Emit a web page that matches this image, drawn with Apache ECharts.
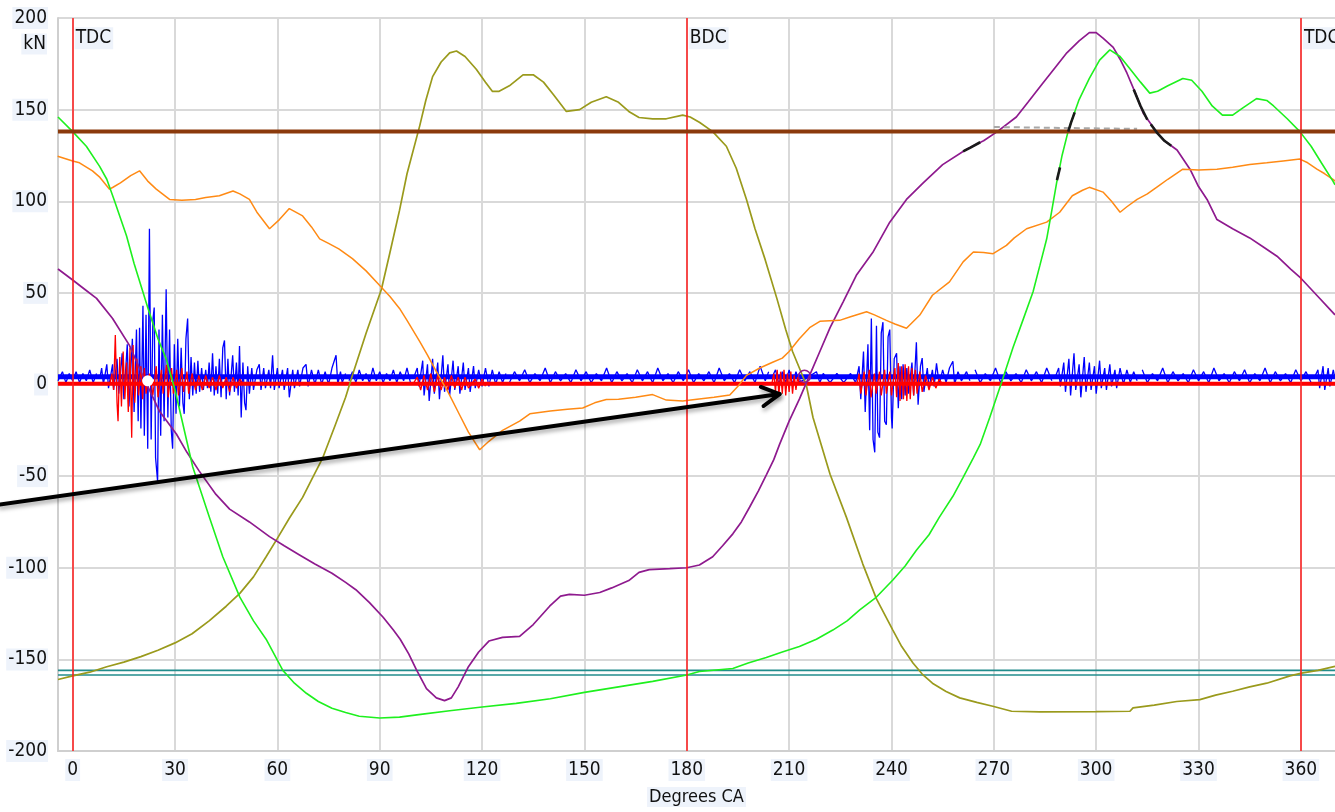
<!DOCTYPE html>
<html>
<head>
<meta charset="utf-8">
<script src="https://cdn.jsdelivr.net/npm/echarts@6/dist/echarts.min.js"></script>
<style>
html,body{margin:0;padding:0;background:#fff;}
#chart{width:1335px;height:812px;}
</style>
</head>
<body>
<div id="chart"></div>
<script>
// axis ranges / ticks
var xMin = -4.3, xMax = 370;
var degTicks = [0, 30, 60, 90, 120, 150, 180, 210, 240, 270, 300, 330, 360];
var deadCentres = [0, 180, 360];
var deadCentreNames = ['TDC', 'BDC', 'TDC'];
var limitHigh = 138;
var limitLow = [-156, -158.5];

// smooth curves [deg, kN]
var greenForce = [[-4.3,146],[0,138],[4,130],[7.9,119],[10,112],[12.3,100],[15.8,81],[18,66],[22,42],[25,25],[27.4,14],[30,-3],[35.2,-45],[40,-72],[44,-94],[49,-116],[53,-129],[56.7,-139],[61.6,-156],[65,-163],[68.5,-168.5],[72,-173],[76,-176.7],[80,-179],[84,-181],[90,-182],[95.8,-181.5],[102,-180],[110.5,-178],[120,-176],[130,-174],[140,-171.5],[150,-168],[160,-165],[170,-162],[180,-158.5],[183.7,-156.6],[193.5,-155],[198,-152],[203.3,-149],[208,-146],[213,-143],[218,-139],[222.8,-134],[227,-129],[230.7,-123],[235.6,-116],[240.4,-106.7],[244,-99],[247.3,-90.5],[251,-82],[254,-72.5],[258,-61],[261,-50.7],[264,-40],[266,-32.7],[268.8,-18],[272.6,3],[275.6,20],[278.5,35],[281.5,50.6],[283.5,65],[285.5,79.5],[287,95],[288.4,110],[290,125],[291.7,137.6],[293,145],[295,155.5],[298,167],[301,177],[304,182.6],[307,179],[310,172],[313,165],[315.7,159],[318,160],[321,163],[325.4,167],[328,166],[331,160],[334,152],[337,147],[340,147],[343,151],[347,156],[350,155],[352,152],[356,145],[359.7,138],[363,130],[366,121],[369.4,111],[370,109]];

var oliveForce = [[-4.3,-161],[0,-159],[5,-157],[10,-154],[15,-151.5],[20,-148.5],[25,-145],[30,-141],[35,-136],[40,-129],[45,-121],[49,-114],[53,-105],[56.7,-94],[60,-84],[63.5,-73],[67.4,-61.6],[70,-52],[73.3,-40],[77,-22],[80,-7],[82,5],[86,28],[90.5,52],[93,72],[95.8,95],[98,115],[101.7,141],[103.5,155],[105.5,168],[108,176],[110.5,181],[112.5,182],[115,179],[118.3,172],[121,165],[123,160],[125,160],[128,163],[132,169],[135,169],[138,165],[141,158],[144.7,149],[148.6,150],[152,154],[156.4,157],[160,154],[163,149],[166,145.7],[170,145],[174,145],[178.8,147],[181,146],[183.8,143],[187.6,138],[191.6,130],[194.5,118],[197.5,101],[200,85],[203,68],[206.4,47],[209,30],[211,18],[215,0],[217,-18],[222,-49],[226.8,-72.5],[231.6,-98],[235.6,-117],[240.4,-134],[243,-143],[246.3,-152],[249,-158],[252,-163],[256,-167.5],[260,-171],[265,-173.5],[269.7,-175.6],[275.2,-178.3],[283.5,-178.7],[300,-178.5],[309.9,-178.3],[310.8,-176.5],[317,-175],[323.6,-173],[330.4,-172],[335,-169.5],[340,-167.4],[345,-165],[350,-163],[356.8,-159],[360.2,-157.5],[365,-156],[370,-153.8]];

var purpleForce = [[-4.3,63],[0,57],[3.5,52],[7,47],[11.7,36],[16.6,21.5],[20.5,5],[25.4,-14.4],[30.4,-27],[33.5,-37],[37,-47],[42,-60],[46,-68],[51.8,-75],[57.7,-83],[62,-88],[66.5,-93],[71,-98],[76,-103],[80,-108],[83,-112],[87,-119],[91,-127],[94,-134],[96,-139],[98.5,-147],[100.7,-155.5],[103.7,-166],[106.6,-171],[109,-172.5],[111,-171],[113,-165],[116,-154],[119,-146],[122,-140],[126,-138],[131,-137.5],[135,-131],[139.8,-121],[143,-115.5],[145.6,-114.5],[150,-115],[154.5,-113.5],[158,-111],[163,-107],[166,-102.5],[169,-101],[175,-100.5],[180,-100],[183.7,-98.5],[187.6,-94],[190.5,-88],[193.5,-81.5],[196,-75],[198.4,-67],[201,-58],[203.4,-49],[205.5,-41],[207.2,-32.7],[210,-20],[213,-8],[216,5],[219,18],[222,31],[225.8,45],[229.7,59.6],[234.5,72],[239.5,88.6],[244.4,101],[249.3,110],[255,120],[262,128.4],[267,133],[271,138],[276.6,146],[280,154],[284.4,164.5],[288,173],[291.4,181],[295,187.5],[298,192],[300,192],[302,189],[305,184],[307,177.5],[309,170],[311.5,159],[313.8,148],[317.8,137.5],[320,133],[323.7,128],[327.5,117.5],[330,108],[332.5,101],[335.4,90],[340,85],[345,80],[349,75],[353,70],[357,63],[360,58],[365,48],[370,38]];

var orangeForce = [[-4.4,124.6],[0,122],[2,121],[5.8,116.6],[8,113],[10.8,106.6],[11.7,107.5],[14,110],[17,114],[19.6,116.6],[22,111],[24.5,106.6],[28.4,101],[32,100.5],[36,101],[39,102],[43,103],[47,105.6],[49,104],[51.8,101],[54,94],[57.7,85],[60.6,90],[63.5,96],[67.4,92],[70,86],[72.4,79.5],[75,77],[78,74],[82,68.7],[86,62],[90,54],[93,48],[95.8,41.5],[98,35],[101.7,23.5],[104,16],[106.6,7],[110,-4],[113.4,-16.5],[116,-26],[119.3,-35.6],[122,-31],[126,-25],[131,-20],[134,-16],[140,-14.5],[145,-13.5],[149.5,-12.8],[153,-10],[156.4,-8.2],[160,-8],[165,-7],[170,-5.5],[174,-8.5],[178.8,-9],[183,-8],[188,-7],[192.6,-5.7],[195,-1],[197.5,5],[201.4,9],[205,12],[208,14.4],[210,18],[213,25],[216,31],[219,34.5],[224.8,35],[228,37],[232.7,39.7],[235,38],[238.5,35],[241,33],[244.4,30.7],[248.3,37.9],[252,48.7],[257,56],[261,66.9],[264,72.3],[267,72],[269.8,71.4],[273.7,75.9],[276,80],[279.6,85],[285.5,88.6],[289.3,94],[293,103],[296,106],[298,107.6],[302,105],[304.5,100],[307,94],[309,97],[312,101],[315,104],[318,108],[321,112],[325.4,117.5],[330,117],[335.4,117.5],[340,118.5],[345,120],[350,121],[354.8,122],[359.7,123],[362,121],[364.7,117.5],[367,115],[369.4,112],[370,111]];

// vibration traces: steady band level + bursts
var blueLevel = 4.2;
var redLevel = 0.4;
var blueBursts = [
  [[-4.3,2],[-3,7],[-2,1],[-1,6],[0,2],[1,7],[2,1],[3,6],[4,2],[5,8],[6,1],[7,6]],
  [[8,4],[8.5,9],[9,0],[10,11],[10.5,-2],[11.7,11],[12,-3],[13,14],[13.5,-5],[14.5,17],[15,-8],[16,22],[16.5,-12],[17.5,25],[18,-15],[18.7,30],[19.2,-20],[19.6,31],[20,-24],[20.6,43],[21,-28],[21.5,38],[22,-35],[22.5,85],[23,-30],[23.5,35],[23.9,42],[24.3,-40],[24.9,-53],[25.3,30],[25.8,-28],[26.3,38],[26.8,-20],[27.4,52],[27.9,-18],[28.4,30],[28.9,-25],[29.3,-35],[29.8,22],[30.3,-16],[30.8,25],[31.3,-12],[31.8,20],[32.3,-10],[32.7,-16],[33.2,25],[33.7,36],[34.2,-8],[34.7,15],[35.2,-6],[35.7,12],[36.2,-5],[36.7,13],[37.2,-4],[37.8,9],[38.3,-3],[39,8],[39.5,-2],[40,12],[40.5,-4],[41,17],[41.5,-6],[42,10],[42.5,-5],[43,14],[43.5,-7],[44,20],[44.5,24],[45,-8],[45.5,14],[46,-6],[46.9,16],[47.4,-4],[48,12],[48.5,-6],[48.9,21],[49.4,-18],[49.9,12],[50.4,-10],[50.8,-14],[51.3,10],[51.8,-5],[52.5,9],[53,-3],[54,8],[54.7,11],[55.2,-3],[56,9],[56.5,-2],[57.5,8],[58,-2],[58.6,16],[59.1,-3],[60,9],[60.5,-2],[61.5,8],[62,-3],[63,9],[63.5,-7],[64.5,8],[65,-2],[66,8],[66.5,-1],[67.5,9],[68.4,11],[69,-1],[70,8],[71,0],[72,8],[73,0],[74,7],[75,0],[76,9],[77.2,16],[77.7,0],[78.5,7],[79,1],[80,6]],
  [[81,2],[82,7],[83,1],[84,8],[85,2],[86,6],[87,1],[88,9],[89,2],[90,7],[91,1],[92,6],[93,2],[94,8],[95,1],[96,7],[97,2],[98,9],[99,1]],
  [[100,4],[101,9],[101.5,-1],[102.6,13],[103,-6],[104,11],[104.5,-9],[105.5,14],[106,-5],[107,12],[107.5,-8],[108.5,16],[109,-4],[110,11],[110.5,-6],[111.5,13],[112,-3],[113,10],[113.5,-5],[114.5,12],[115,-3],[116,9],[116.5,-4],[117.5,10],[118,-2],[119,8],[120,-1],[121,9],[122,-1],[123,8],[124,0],[125,7],[126,1],[127,6]],
  [[128,1],[129.5,7],[131,2],[132.5,8],[134,1],[135.5,6],[137,2],[138.5,9],[140,1],[141.5,7],[143,2],[144.5,6],[146,1],[147.5,8],[149,2],[150.5,7],[152,1],[153.5,6],[155,2],[156.5,9],[158,1],[159.5,7],[161,2],[162.5,6],[164,1],[165.5,8],[167,2],[168.5,7],[170,1],[171.5,9],[173,2],[174.5,6],[176,1],[177.5,7],[179,2],[180.5,8],[182,1],[183.5,6],[185,2],[186.5,7],[188,1],[189.5,9],[191,2],[192.5,6],[194,1],[195.5,8],[197,2],[198.5,7],[200,1],[201.5,10],[203,2],[204,7]],
  [[205,4],[206,8],[207,0],[208,7],[209,1],[210,8],[211,0],[212,7],[213,1],[218,7],[219,1],[220,6],[222,1],[224,6],[226,1],[228,6],[229.5,1],[230.5,10],[231,-8],[231.8,18],[232.3,-15],[233.1,22],[233.6,-25],[234.1,36],[234.6,-30],[235.1,-37],[235.6,32],[236,-26],[236.5,-29],[237,28],[237.5,34],[238,-20],[238.5,-22],[239,26],[239.5,30],[240,-18],[240.2,-24],[240.8,14],[241.5,17],[242,-13],[242.5,10],[243,-8],[243.4,11],[244,-6],[244.5,9],[245,-5],[246,12],[246.5,-6],[247.3,23],[247.8,-11],[248.5,10],[249,14.4],[249.5,-4],[250.5,9],[251,-2],[252,8],[252.5,-1],[253.2,11.5],[254,0],[255,8],[256,1],[257,9],[258,12.7],[258.5,0],[259.5,7],[260.5,2],[262,7],[263,2]],
  [[264.5,8],[266,1],[267.5,6],[269,2],[270.5,9],[272,1],[273.5,7],[275,2],[276.5,6],[278,1],[279.5,8],[281,2],[282.5,7],[284,1],[285.5,9],[287,2]],
  [[288,4],[289,9],[289.5,-1],[290.5,12],[291,-4],[292,14],[292.5,-6],[293.5,17],[294,-3],[295,11],[295.5,-7],[296.5,15],[297,-4],[298,12],[298.5,-3],[299.5,10],[300,-5],[301,13],[301.5,-2],[302.5,9],[303,-3],[304,11],[304.5,-1],[305.5,8],[306,-2],[307,9],[308,0],[309,8],[310,1],[311,7],[312,2]],
  [[313.5,8],[315,1],[316.5,6],[318,2],[319.5,9],[321,1],[322.5,7],[324,2],[325.5,6],[327,1],[328.5,8],[330,2],[331.5,7],[333,1],[334.5,9],[336,2],[337.5,6],[339,1],[340.5,7],[342,2],[343.5,8],[345,1],[346.5,6],[348,2],[349.5,9],[351,1],[352.5,7],[354,2],[355.5,6],[357,1],[358.5,8],[360,2],[361.5,7],[363,1]],
  [[364,4],[365,8],[365.5,-2],[366.5,10],[367,-3],[368,9],[368.5,-1],[369.5,8],[370,3]]
];
var redBursts = [
  [[11,1],[11.5,6],[12,-3],[12.5,27],[13,-10],[13.3,-20],[13.8,15],[14.3,-12],[14.8,18],[15.3,-8],[15.8,12],[16.3,-15],[16.8,20],[17.3,-29],[17.7,21.5],[18.2,-10],[18.8,14],[19.3,-6],[20,10],[20.5,-8],[21,9],[21.5,-5],[22.5,6],[23.5,-6],[24.5,10],[25,-7],[26,8],[26.5,-5],[27.5,10.7],[28,-7],[29,9],[29.5,-5],[30.5,8],[31,-6],[32,9],[32.5,-4],[33.5,7],[34,-5],[35,6],[36,-3],[37,5],[38,-3],[39,5],[40,-2],[41,4],[42,-3],[43,5],[44,-2],[45,4],[46,-4],[47,4],[48,-2],[49,3],[50,0]],
  [[100,1],[101,4],[102,-3],[103,5],[104,-3],[105,6],[106,-4],[107,5],[108,-3],[109,4],[110,-3],[111,5],[112,-2],[113,4],[114,-3],[115,4],[116,-2],[118,3],[119,-2],[120,3],[121,-1]],
  [[205,1],[205.5,6],[206,-4],[206.5,8],[207,-6],[207.5,7],[208,-5],[208.5,8],[209,-6],[209.5,6],[210,-4],[210.5,7],[211,-5],[211.5,5],[212,-3],[212.5,4],[213,0]],
  [[230,1],[230.5,6],[231,-5],[232,7],[232.5,-6],[233.5,8],[234,-7],[235,6],[235.5,-5],[236.5,7],[237,-6],[238,8],[238.5,-5],[239.5,7],[240,-6],[241,9],[241.5,-7],[242,11.7],[242.5,-9],[243,10],[243.5,-8],[244,11],[244.5,-9],[245,10],[245.5,-8],[246,9],[246.5,-6],[247,8],[247.5,-5],[248.3,7],[249,-4],[250,5],[251,-3],[252,4],[253,-2],[254,3],[255,0]]
];

// dark over-trace pieces and grey dashed piece near the upper limit
var blackTraces = [
  [[261,127.2],[263,129.1],[266,132.2]],
  [[288.5,111.5],[289.4,118.5]],
  [[291.8,138],[292.6,142.8],[293.7,148.5]],
  [[311,161],[313,152],[315,144.5]],
  [[316,142],[318,137],[320,133],[322,130.3]]
];
var greyDash = [[270, 140.5], [312, 139.5]];

// markers
var whiteDot = [22, 2];
var purpleRing = [214.5, 4.5];
var arrowFrom = [-21.5, -65.5];
var arrowTo = [207.2, -5.2];

var FONT = "'Liberation Sans Narrow', 'DejaVu Sans Condensed', 'Arial Narrow', sans-serif";
var FSIZE = 19;
var LABEL_BG = '#eef3fb';

var chart = echarts.init(document.getElementById('chart'));

function flat(level) {
  return [[xMin, level], [xMax, level]];
}
function curve(name, data, color, width, z) {
  return {
    name: name, type: 'line', data: data, z: z || 4,
    symbol: 'none', animation: false, silent: true,
    lineStyle: {color: color, width: width}
  };
}

var series = [];
// low limit lines (teal)
limitLow.forEach(function (v) {
  series.push(curve('low', flat(v), '#228c8c', 1.6, 2));
});
// blue trace
series.push(curve('blueBand', flat(blueLevel), '#0000ff', 5, 3));
blueBursts.forEach(function (b) { series.push(curve('blue', b, '#0000ff', 1.3, 3)); });
// red trace
series.push(curve('redBand', flat(redLevel), '#ff0000', 4, 3));
redBursts.forEach(function (b) { series.push(curve('red', b, '#ff0000', 1.3, 3)); });

series.push(curve('olive', oliveForce, '#9a9a1c', 1.7, 4));
series.push(curve('purple', purpleForce, '#8e1a8e', 1.7, 4));
series.push(curve('orange', orangeForce, '#ff8a14', 1.5, 4));
series.push(curve('green', greenForce, '#1ef01e', 1.6, 4));

var grey = curve('grey', greyDash, '#a8a8a8', 2, 5);
grey.lineStyle.type = [6, 4];
series.push(grey);

// dead centre lines + labels
series.push({
  type: 'line', data: [], z: 5, silent: true, animation: false,
  markLine: {
    silent: true, symbol: 'none', animation: false,
    lineStyle: {color: '#ff1a1a', width: 1.5, type: 'solid'},
    label: {show: false},
    data: deadCentres.map(function (d) { return {xAxis: d}; })
  },
  markPoint: {
    silent: true, animation: false, symbolSize: 0,
    label: {
      show: true, position: 'right', distance: 2, formatter: '{b}',
      fontFamily: FONT, fontSize: FSIZE, color: '#111',
      backgroundColor: LABEL_BG, padding: [2, 2, 1, 1]
    },
    data: deadCentres.map(function (d, i) {
      return {name: deadCentreNames[i], coord: [d, 189]};
    })
  }
});

// high limit (brown) on top
series.push(curve('high', flat(limitHigh), '#8b3a0c', 4, 6));

blackTraces.forEach(function (b) { series.push(curve('black', b, '#1a1a1a', 2.6, 7)); });

// small circle markers
series.push({
  type: 'line', data: [], z: 7, silent: true, animation: false,
  markPoint: {
    silent: true, animation: false, label: {show: false},
    data: [
      {coord: whiteDot, symbol: 'circle', symbolSize: 11, itemStyle: {color: '#ffffff'}},
      {coord: purpleRing, symbol: 'circle', symbolSize: 12,
       itemStyle: {color: 'rgba(0,0,0,0)', borderColor: '#8e1a8e', borderWidth: 1.5}}
    ]
  }
});

var option = {
  backgroundColor: '#ffffff',
  animation: false,
  grid: {left: 58, right: 0, top: 18, bottom: 57, containLabel: false},
  xAxis: {
    type: 'value', min: xMin, max: xMax,
    name: 'Degrees CA', nameLocation: 'middle', nameGap: 36,
    nameTextStyle: {fontFamily: FONT, fontSize: 18, color: '#111', backgroundColor: LABEL_BG, padding: [1, 2]},
    axisLine: {show: true, onZero: false, lineStyle: {color: '#cfcfcf', width: 2}},
    axisTick: {show: false, customValues: degTicks},
    axisLabel: {
      customValues: degTicks, margin: 8,
      fontFamily: FONT, fontSize: FSIZE, color: '#111',
      backgroundColor: LABEL_BG, padding: [2, 2, 1, 2]
    },
    splitLine: {show: true, lineStyle: {color: '#d9d9d9', width: 2}}
  },
  yAxis: {
    type: 'value', min: -200, max: 200, interval: 50,
    axisLine: {show: true, onZero: false, lineStyle: {color: '#cfcfcf', width: 2}},
    axisTick: {show: false},
    axisLabel: {
      margin: 10, fontFamily: FONT, fontSize: FSIZE, color: '#111',
      backgroundColor: LABEL_BG, padding: [2, 1, 1, 2]
    },
    splitLine: {show: true, lineStyle: {color: '#d9d9d9', width: 2}}
  },
  series: series
};
chart.setOption(option);

// unit label under the top tick, and the black annotation arrow
var pTop = chart.convertToPixel({gridIndex: 0}, [xMin, 200]);
var p0 = chart.convertToPixel({gridIndex: 0}, arrowFrom);
var p1 = chart.convertToPixel({gridIndex: 0}, arrowTo);
var ang = Math.atan2(p1[1] - p0[1], p1[0] - p0[0]);
var headLen = 20, headAng = 0.5;
var h1 = [p1[0] - headLen * Math.cos(ang - headAng), p1[1] - headLen * Math.sin(ang - headAng)];
var h2 = [p1[0] - headLen * Math.cos(ang + headAng), p1[1] - headLen * Math.sin(ang + headAng)];
var arrowStyle = {
  stroke: '#000', lineWidth: 4, lineCap: 'round', lineJoin: 'round', fill: null,
  shadowBlur: 4, shadowColor: 'rgba(0,0,0,0.35)', shadowOffsetX: 1, shadowOffsetY: 3
};
chart.setOption({
  graphic: [
    {type: 'text', z: 100, silent: true, x: pTop[0] - 11, y: pTop[1] + 26,
     style: {text: 'kN', font: FSIZE + 'px ' + FONT, fill: '#111', align: 'right', verticalAlign: 'middle',
             backgroundColor: LABEL_BG, padding: [1, 1, 1, 2]}},
    {type: 'line', z: 100, silent: true,
     shape: {x1: p0[0], y1: p0[1], x2: p1[0], y2: p1[1]}, style: arrowStyle},
    {type: 'polyline', z: 100, silent: true,
     shape: {points: [h1, p1, h2]}, style: arrowStyle}
  ]
});
</script>
</body>
</html>
